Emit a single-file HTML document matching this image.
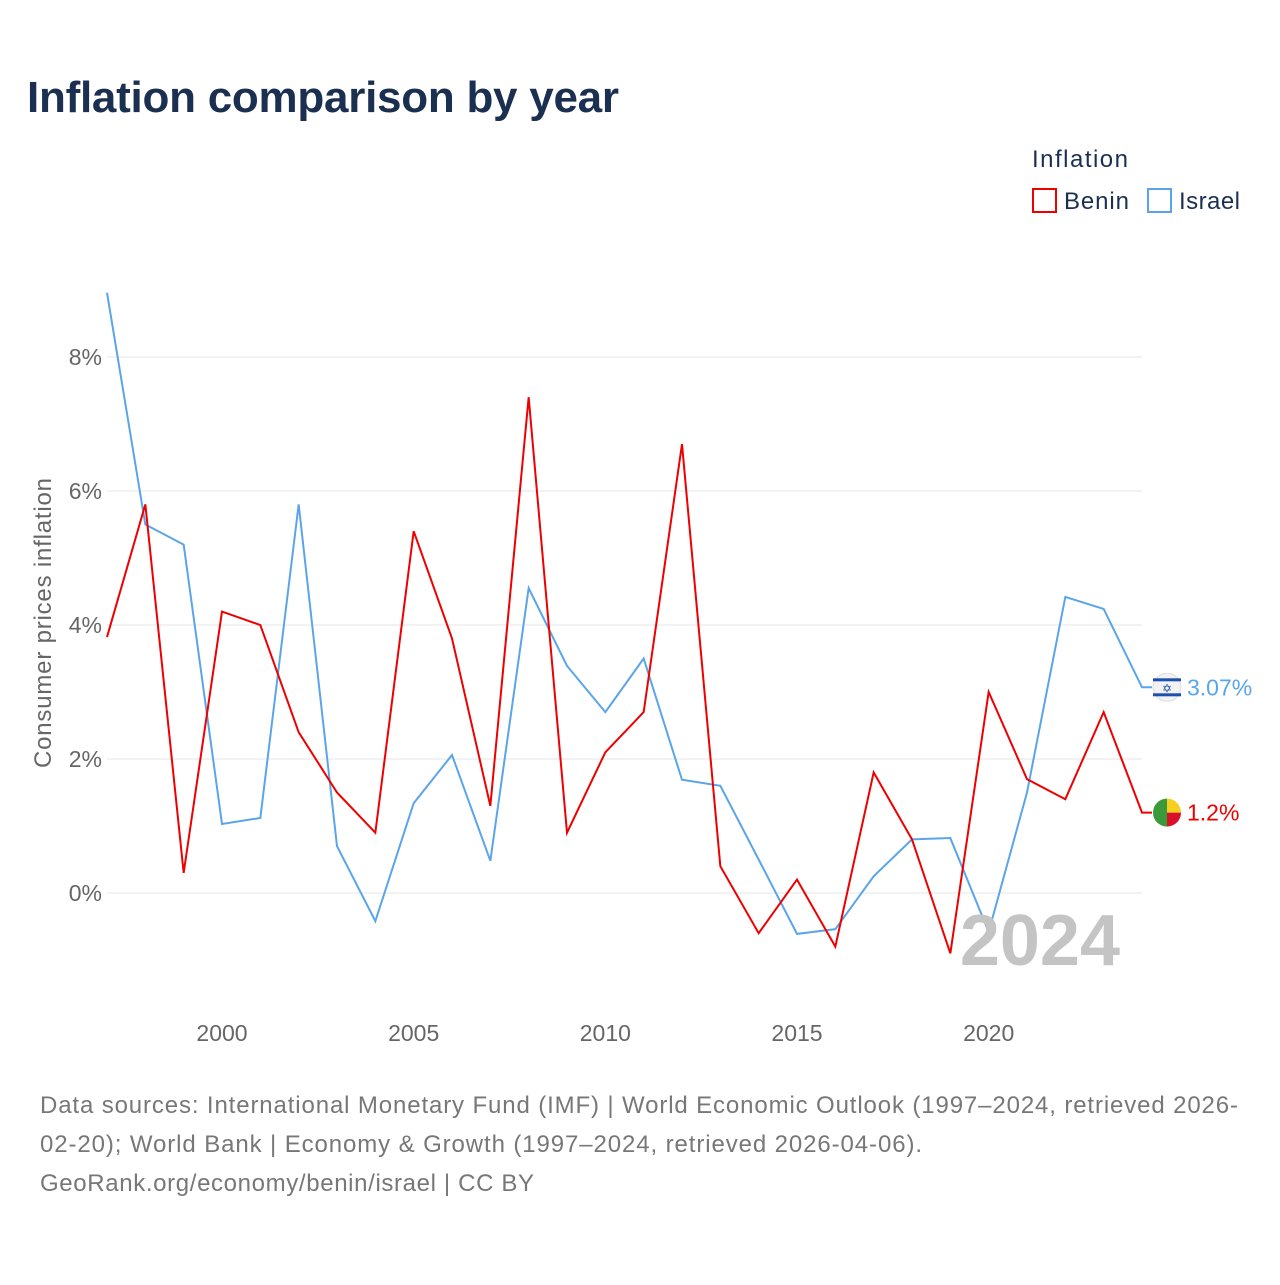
<!DOCTYPE html>
<html><head><meta charset="utf-8"><style>
body{margin:0;background:#fff;font-family:"Liberation Sans",sans-serif}
svg text{font-family:"Liberation Sans",sans-serif}
</style></head><body>
<svg id="c" width="1280" height="1280">
<text x="27" y="112" font-size="44" font-weight="bold" fill="#1b3050" textLength="592">Inflation comparison by year</text>
<text x="1032" y="167" font-size="24" fill="#1b3050" textLength="96">Inflation</text>
<g><rect x="1033" y="189" width="23" height="23" fill="none" stroke="#e00" stroke-width="2"/><text x="1064" y="209" font-size="24" fill="#1b3050" textLength="65">Benin</text></g>
<g><rect x="1148" y="189" width="23" height="23" fill="none" stroke="#5aa5ea" stroke-width="2"/><text x="1179" y="209" font-size="24" fill="#1b3050" textLength="61">Israel</text></g>
<g id="grid"></g><g id="lines"></g>
<text x="1120" y="965" font-size="72" font-weight="bold" fill="#c4c4c4" text-anchor="end">2024</text>
<text transform="translate(51,623) rotate(-90)" font-size="24" fill="#666" text-anchor="middle" textLength="290">Consumer prices inflation</text>
<g font-size="24" fill="#777">
<text x="40" y="1113" textLength="1198">Data sources: International Monetary Fund (IMF) | World Economic Outlook (1997–2024, retrieved 2026-</text>
<text x="40" y="1152" textLength="882">02-20); World Bank | Economy &amp; Growth (1997–2024, retrieved 2026-04-06).</text>
<text x="40" y="1191" textLength="494">GeoRank.org/economy/benin/israel | CC BY</text></g>
</svg>
<script>
const years=[1997,1998,1999,2000,2001,2002,2003,2004,2005,2006,2007,2008,2009,2010,2011,2012,2013,2014,2015,2016,2017,2018,2019,2020,2021,2022,2023,2024];
const benin=[3.82,5.8,0.3,4.2,4.0,2.4,1.5,0.9,5.4,3.8,1.3,7.4,0.9,2.1,2.7,6.7,0.4,-0.6,0.2,-0.8,1.8,0.8,-0.9,3.0,1.7,1.4,2.7,1.2];
const israel=[8.96,5.5,5.2,1.03,1.12,5.8,0.7,-0.42,1.34,2.06,0.48,4.55,3.39,2.7,3.5,1.69,1.6,0.5,-0.61,-0.54,0.25,0.8,0.82,-0.58,1.5,4.42,4.24,3.07];
const yTicks=[0,2,4,6,8];
const xTicks=[2000,2005,2010,2015,2020];
const X=y=>107+(y-1997)*(1142-107)/27;
const Y=v=>893-v*67;
const NS='http://www.w3.org/2000/svg';
const g=document.getElementById('grid'),L=document.getElementById('lines');
function mk(t,a,p){const e=document.createElementNS(NS,t);for(const k in a)e.setAttribute(k,a[k]);p.appendChild(e);return e;}
yTicks.forEach(v=>{
const l=mk('line',{x1:107,x2:1142,y1:Y(v),y2:Y(v),stroke:'#e6e6e6'},g);


const t=mk('text',{x:102,y:Y(v)+8,'font-size':23,fill:'#666','text-anchor':'end'},g);t.textContent=v+'%';


});
xTicks.forEach(v=>{
const t=mk('text',{x:X(v),y:1041,'font-size':23,fill:'#666','text-anchor':'middle'},g);t.textContent=v;


});
function series(vals,col,name,label,flag){
const pts=vals.map((v,i)=>X(years[i])+','+Y(v)).join(' ');
const p=mk('polyline',{points:pts+' '+(X(2024)+10)+','+Y(vals[vals.length-1]),fill:'none',stroke:col,'stroke-width':2},L);


const yy=Y(vals[vals.length-1]);
const f=mk('g',{},L);


flag(f,1167,yy);
const t=mk('text',{x:1187,y:yy+8,'font-size':23,fill:col},L);t.textContent=label;


}
series(israel,'#5aa5ea','israel','3.07%',(f,x,y)=>{
mk('circle',{cx:x,cy:y,r:14,fill:'#f2f2f2',stroke:'#ddd'},f);
mk('rect',{x:x-14,y:y-9,width:28,height:3,fill:'#1d4fb0'},f);
mk('rect',{x:x-14,y:y+6,width:28,height:3,fill:'#1d4fb0'},f);
const s=mk('text',{x:x,y:y+5,'font-size':12,fill:'#1d4fb0','text-anchor':'middle'},f);s.textContent='✡';
});
series(benin,'#e00','benin','1.2%',(f,x,y)=>{
mk('path',{d:`M${x},${y-14}A14,14 0 0,0 ${x},${y+14}Z`,fill:'#3a9a3a'},f);
mk('path',{d:`M${x},${y-14}A14,14 0 0,1 ${x+14},${y}L${x},${y}Z`,fill:'#f5d020'},f);
mk('path',{d:`M${x},${y+14}A14,14 0 0,0 ${x+14},${y}L${x},${y}Z`,fill:'#d8102a'},f);
});
</script>
</body></html>
